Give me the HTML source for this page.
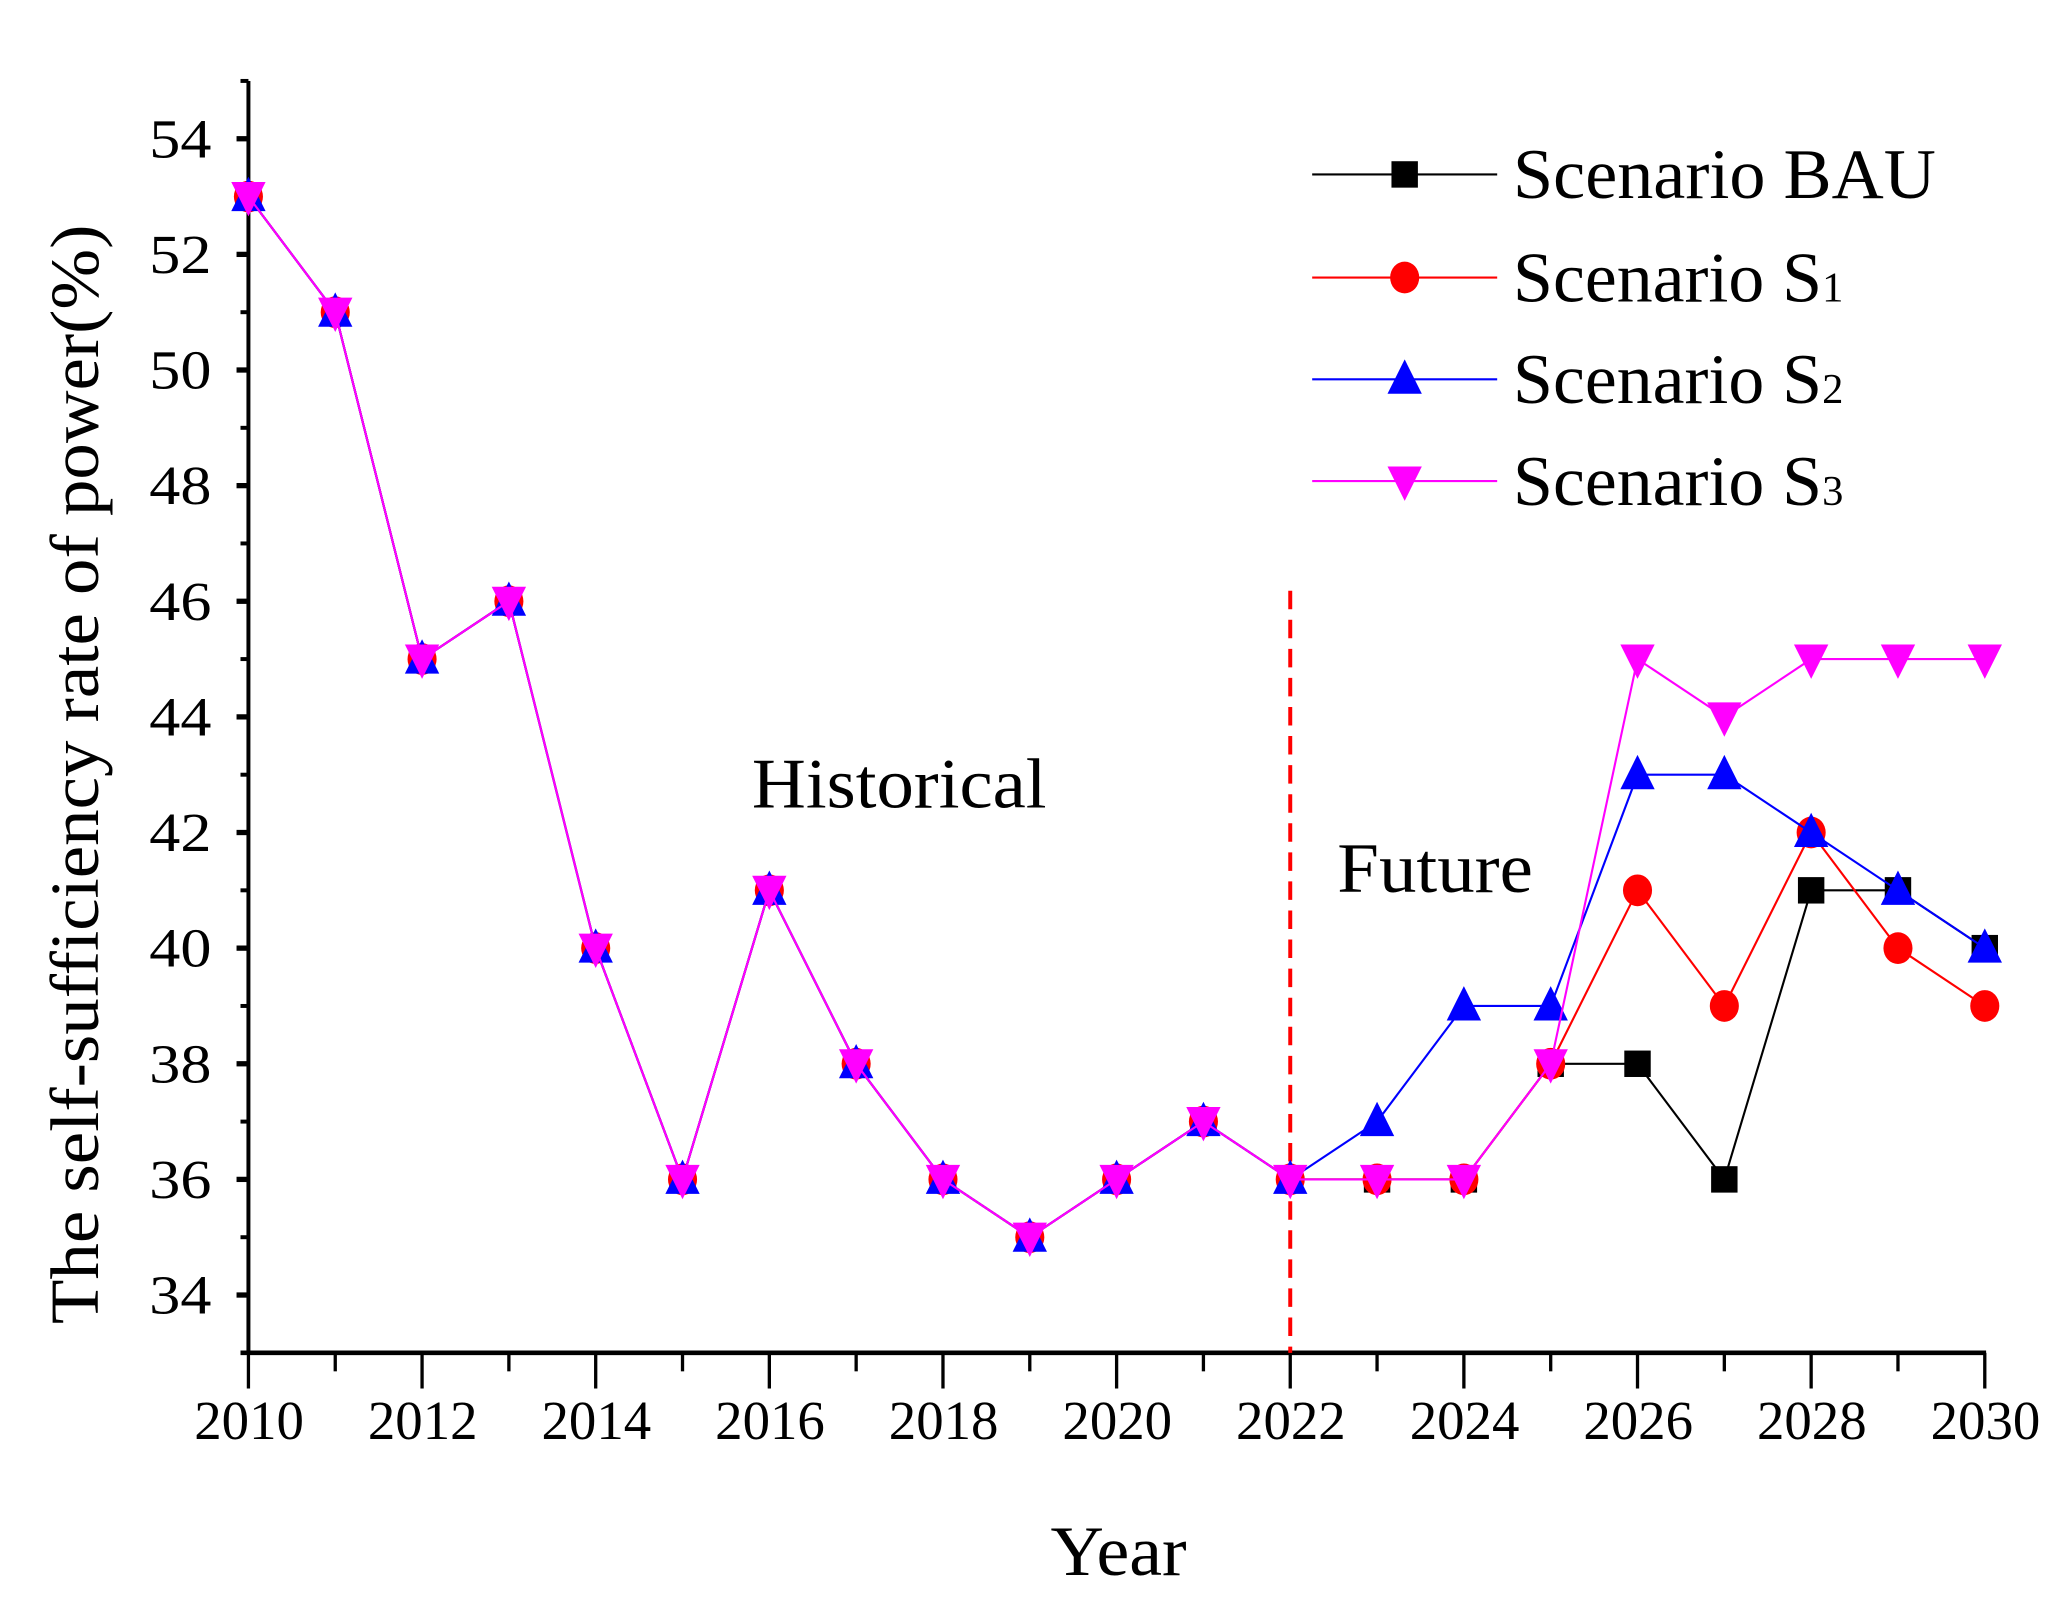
<!DOCTYPE html>
<html><head><meta charset="utf-8"><style>
html,body{margin:0;padding:0;background:#fff;}
svg{display:block;}
text{font-family:"Liberation Serif",serif;fill:#000;}
</style></head><body>
<svg id="chart" width="2072" height="1602" viewBox="0 0 1568 1212.3" preserveAspectRatio="none" xmlns="http://www.w3.org/2000/svg">
<g id="axes"></g>
<g id="series"></g>
<text x="569" y="611" font-size="54" textLength="223" lengthAdjust="spacingAndGlyphs">Historical</text>
<text x="1012" y="675" font-size="54" textLength="148" lengthAdjust="spacingAndGlyphs">Future</text>
<text x="795" y="1192" font-size="54" textLength="103" lengthAdjust="spacingAndGlyphs">Year</text>
<text transform="translate(74,1002) rotate(-90)" font-size="52" textLength="832" lengthAdjust="spacingAndGlyphs">The self-sufficiency rate of power(%)</text>
<g id="legend"></g>
</svg>
<script>
const years = [2010,2011,2012,2013,2014,2015,2016,2017,2018,2019,2020,2021,2022,2023,2024,2025,2026,2027,2028,2029,2030];
const historical = [53,51,45,46,40,36,41,38,36,35,36,37,36];
const bauFuture = [36,36,38,38,36,41,41,40];
const s1Future = [36,36,38,41,39,42,40,39];
const s2Future = [37,39,39,43,43,42,41,40];
const s3Future = [36,36,38,45,44,45,45,45];
const xTicks = [2010,2012,2014,2016,2018,2020,2022,2024,2026,2028,2030];
const yTicks = [34,36,38,40,42,44,46,48,50,52,54];
const dividerYear = 2022;

const NS = "http://www.w3.org/2000/svg";
const X0=188, X1=1502, Y34=980, PXU=43.75;
const xs = y => X0 + (y-2010)*(X1-X0)/20;
const ys = v => Y34 - (v-34)*PXU;
function mk(tag, attrs, parent){const e=document.createElementNS(NS,tag);for(const k in attrs)e.setAttribute(k,attrs[k]);parent.appendChild(e);return e;}

const axes=document.getElementById('axes');
const yBot=ys(33), yTop=ys(55);
let e;
e=mk('line',{x1:X0,y1:yBot,x2:X0,y2:yTop,stroke:'#000','stroke-width':3},axes);


e=mk('line',{x1:X0-6,y1:yBot,x2:X1+1,y2:yBot,stroke:'#000','stroke-width':3.5},axes);


for(let v=33; v<=55; v++){
  const major = yTicks.includes(v);
  e=mk('line',{x1:X0-(major?9:6),y1:ys(v),x2:X0,y2:ys(v),stroke:'#000','stroke-width':major?4:3},axes);
  
  
}
yTicks.forEach(v=>{
  const t=mk('text',{x:113,y:ys(v)+14,'font-size':42,textLength:47,lengthAdjust:'spacingAndGlyphs'},axes);t.textContent=v;
  
  
});
years.forEach(y=>{
  const major = xTicks.includes(y);
  e=mk('line',{x1:xs(y),y1:yBot,x2:xs(y),y2:yBot+(major?27:14),stroke:'#000','stroke-width':2.5},axes);
  
  
});
xTicks.forEach(y=>{
  const t=mk('text',{x:xs(y)-41,y:1089,'font-size':42,textLength:83,lengthAdjust:'spacingAndGlyphs'},axes);t.textContent=y;
  
  
});
e=mk('line',{x1:xs(dividerYear),y1:447,x2:xs(dividerYear),y2:yBot,stroke:'#f00','stroke-width':3,'stroke-dasharray':'14,8'},axes);



function marker(shape,cx,cy,color,parent){
  let m;
  if(shape==='square') m=mk('rect',{x:cx-10,y:cy-10,width:20,height:20,fill:color},parent);
  else if(shape==='circle') m=mk('ellipse',{cx:cx,cy:cy,rx:11,ry:12,fill:color},parent);
  else if(shape==='up') m=mk('polygon',{points:`${cx},${cy-15} ${cx-13},${cy+11} ${cx+13},${cy+11}`,fill:color},parent);
  else m=mk('polygon',{points:`${cx},${cy+15} ${cx-13},${cy-11} ${cx+13},${cy-11}`,fill:color},parent);
  return m;
}
const seriesDefs=[
  {name:'bau',fut:bauFuture,color:'#000',shape:'square'},
  {name:'s1',fut:s1Future,color:'#f00',shape:'circle'},
  {name:'s2',fut:s2Future,color:'#00f',shape:'up'},
  {name:'s3',fut:s3Future,color:'#f0f',shape:'down'}
];
const sg=document.getElementById('series');
seriesDefs.forEach(s=>{
  const vals=historical.concat(s.fut);
  const g=mk('g',{},sg);
  
  
  const pts=vals.map((v,i)=>xs(years[i])+','+ys(v)).join(' ');
  const l=mk('polyline',{points:pts,fill:'none',stroke:s.color,'stroke-width':1.6},g);
  
  
  vals.forEach((v,i)=>{
    const m=marker(s.shape,xs(years[i]),ys(v),s.color,g);
    
    
  });
});

const lg=document.getElementById('legend');
const legendY=[132,210,287,364];
const labels=[['Scenario BAU',''],['Scenario S','1'],['Scenario S','2'],['Scenario S','3']];
const labelW=[320,250,250,250];
seriesDefs.forEach((s,i)=>{
  const g=mk('g',{},lg);
  
  
  mk('line',{x1:993,y1:legendY[i],x2:1133,y2:legendY[i],stroke:s.color,'stroke-width':1.6},g);
  marker(s.shape,1063,legendY[i],s.color,g);
  const t=mk('text',{x:1145,y:legendY[i]+18,'font-size':54,textLength:labelW[i],lengthAdjust:'spacingAndGlyphs'},g);
  t.textContent=labels[i][0];
  if(labels[i][1]){const ts=mk('tspan',{'font-size':32},t);ts.textContent=labels[i][1];}
});
</script>
</body></html>
